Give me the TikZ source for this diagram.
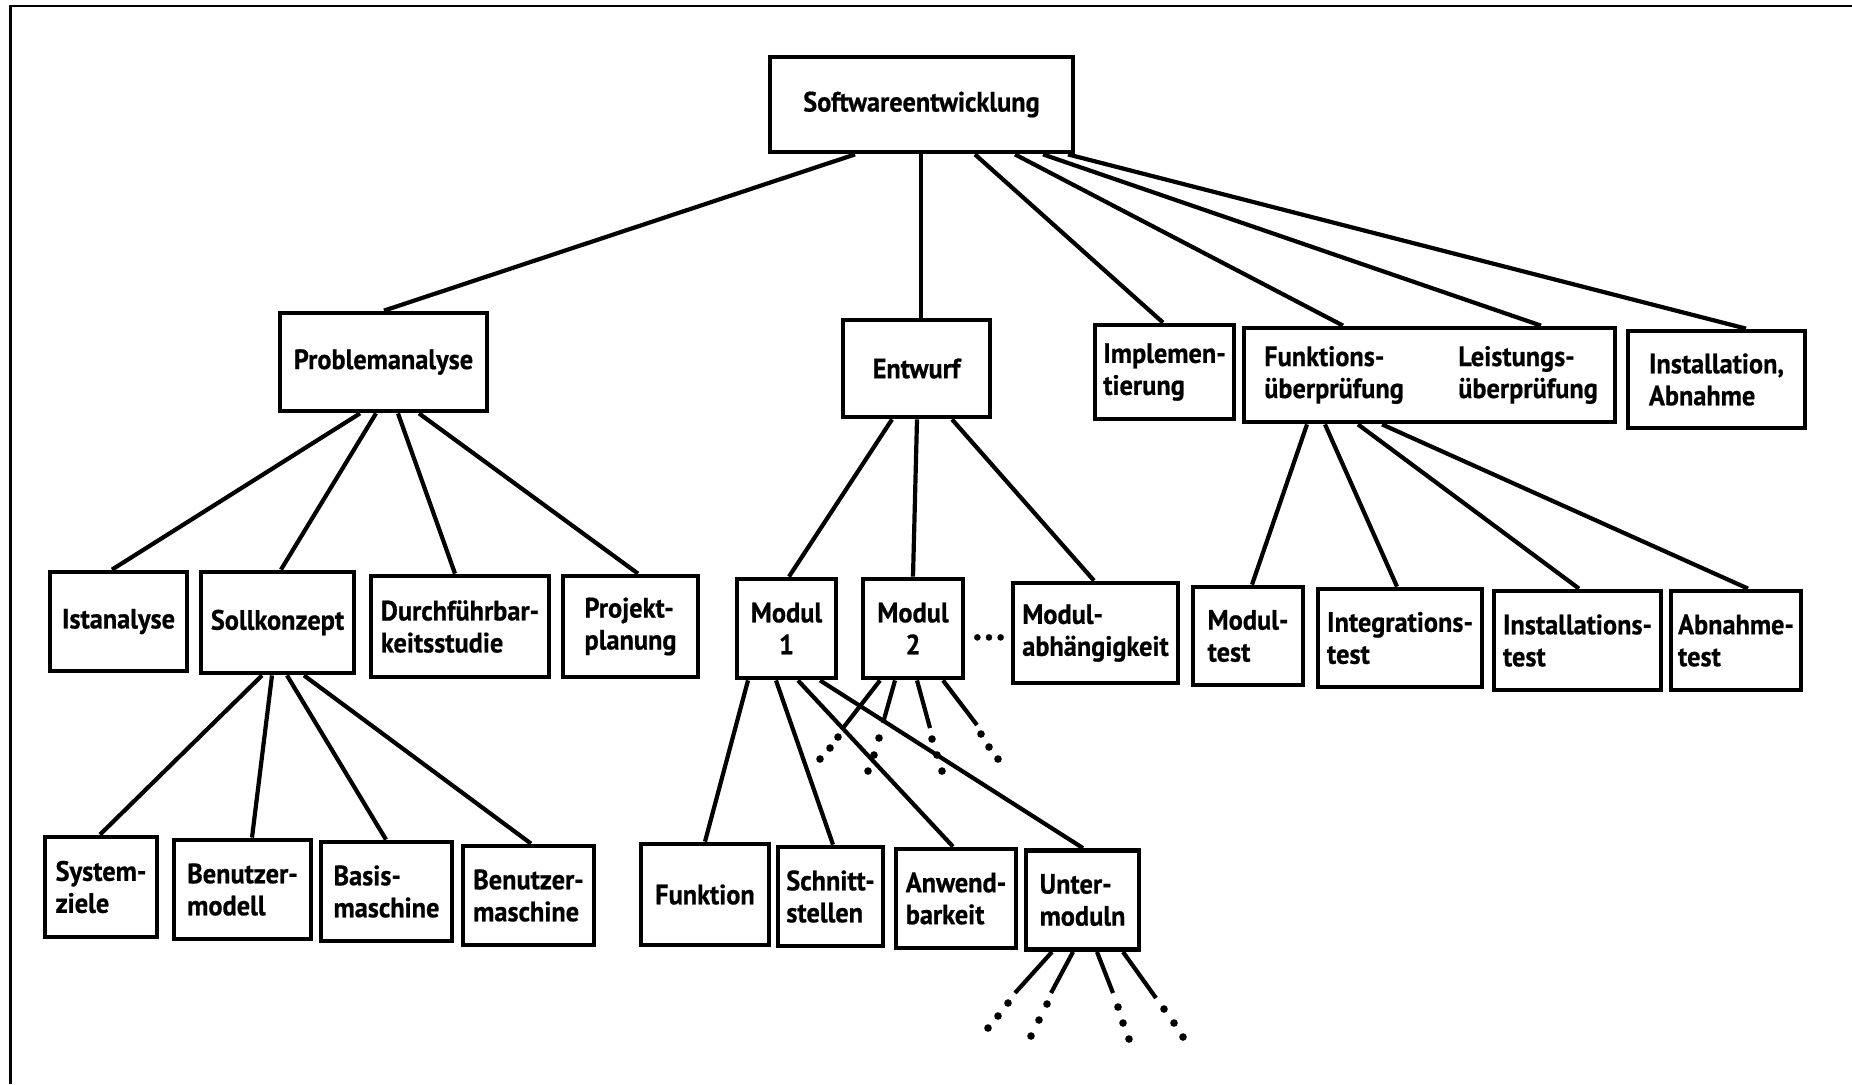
\documentclass[tikz,border=0pt]{standalone}
\usepackage{fontspec}
\setmainfont{PT Sans}[FakeStretch=0.94,BoldFeatures={FakeBold=0.6}]
\usetikzlibrary{calc}
\begin{document}
\begin{tikzpicture}[x=0.5pt,y=-0.5pt,
  txt/.style={inner sep=1pt,align=left,font=\bfseries\fontsize{14}{16}\selectfont},
  box/.style={txt,draw,line width=2.4pt},
  wh/.style 2 args={minimum width=#1*0.5pt,minimum height=#2*0.5pt},
  conn/.style={line width=2.1pt},
  frame/.style={line width=1.3pt}]
\useasboundingbox (0,0) rectangle (1852,1084);

% page frame (top and left edges)
\draw[frame] (10.5,1084) -- (10.5,6) -- (1852,6);

% root
\node[box,wh={303}{95}] (sw) at (921.5,104.5) {Softwareentwicklung};

% phases
\node[box,wh={207}{98}] (pa) at (383.5,362) {Problemanalyse};
\node[box,wh={147}{97}] (ew) at (916.5,368.5) {Entwurf};
\node[box,wh={139}{94}] (im) at (1164.5,372) {Implemen-\\tierung};
\node[box,wh={371}{94}] (fl) at (1429.5,375) {};
\node[txt] (fu) at (1334,375) {Funktions-\\überprüfung};
\node[txt] (le) at (1528,375) {Leistungs-\\überprüfung};
\node[box,wh={177}{97}] (ia) at (1716.5,379.5) {Installation,\\Abnahme};

% third level
\node[box,wh={137}{99}] (ist) at (118.5,621.5) {Istanalyse};
\node[box,wh={153}{101}] (sk) at (277.5,622.5) {Sollkonzept};
\node[box,wh={178}{101}] (df) at (460,626.5) {Durchführbar-\\keitsstudie};
\node[box,wh={135}{101}] (pp) at (630.5,626.5) {Projekt-\\planung};
\node[box,wh={99}{99},align=center] (m1) at (786.5,628.5) {Modul\\1};
\node[box,wh={100}{99},align=center] (m2) at (913,628.5) {Modul\\2};
\node[txt,anchor=base,font=\bfseries\fontsize{20}{20}\selectfont] (ell) at (989,640) {.\hspace{1.2pt}.\hspace{1.2pt}.};
\node[box,wh={165}{100}] (ma) at (1095.5,633) {Modul-\\abhängigkeit};
\node[box,wh={110}{98}] (mt) at (1248,636) {Modul-\\test};
\node[box,wh={164}{98}] (itt) at (1400,638) {Integrations-\\test};
\node[box,wh={167}{99}] (ins) at (1577.5,640.5) {Installations-\\test};
\node[box,wh={130}{99}] (abt) at (1736,640.5) {Abnahme-\\test};

% fourth level
\node[box,wh={112}{100}] (sz) at (101,887) {System-\\ziele};
\node[box,wh={137}{99}] (bm) at (242.5,889.5) {Benutzer-\\modell};
\node[box,wh={131}{99}] (bs) at (386.5,891.5) {Basis-\\maschine};
\node[box,wh={131}{99}] (bu) at (528.5,895.5) {Benutzer-\\maschine};
\node[box,wh={128}{101}] (fk) at (705,894.5) {Funktion};
\node[box,wh={105}{99}] (ss) at (830.5,896.5) {Schnitt-\\stellen};
\node[box,wh={120}{99}] (ab) at (956,898.5) {Anwend-\\barkeit};
\node[box,wh={113}{99}] (um) at (1082.5,900) {Unter-\\moduln};

% root to phases
\draw[conn] (855,0 |- sw.south) -- (384,0 |- pa.north);
\draw[conn] (921,0 |- sw.south) -- (921,0 |- ew.north);
\draw[conn] (975,0 |- sw.south) -- (1163,0 |- im.north);
\draw[conn] (1015,0 |- sw.south) -- (1343,0 |- fl.north);
\draw[conn] (1043,0 |- sw.south) -- (1541,0 |- fl.north);
\draw[conn] (1068,0 |- sw.south) -- (1746,0 |- ia.north);

% Problemanalyse
\draw[conn] (360,0 |- pa.south) -- (112,0 |- ist.north);
\draw[conn] (376,0 |- pa.south) -- (281,0 |- sk.north);
\draw[conn] (398,0 |- pa.south) -- (455,0 |- df.north);
\draw[conn] (419,0 |- pa.south) -- (638,0 |- pp.north);

% Sollkonzept
\draw[conn] (262,0 |- sk.south) -- (100,0 |- sz.north);
\draw[conn] (272,0 |- sk.south) -- (252,0 |- bm.north);
\draw[conn] (287,0 |- sk.south) -- (386,0 |- bs.north);
\draw[conn] (304,0 |- sk.south) -- (531,0 |- bu.north);

% Entwurf
\draw[conn] (892,0 |- ew.south) -- (789,0 |- m1.north);
\draw[conn] (917,0 |- ew.south) -- (913,0 |- m2.north);
\draw[conn] (952,0 |- ew.south) -- (1094,0 |- ma.north);

% Modul 1
\draw[conn] (748,0 |- m1.south) -- (705,0 |- fk.north);
\draw[conn] (776,0 |- m1.south) -- (833,0 |- ss.north);
\draw[conn] (798,0 |- m1.south) -- (953,0 |- ab.north);
\draw[conn] (820,0 |- m1.south) -- (1083,0 |- um.north);

% Funktions-/Leistungsueberpruefung
\draw[conn] (1307,0 |- fl.south) -- (1252,0 |- mt.north);
\draw[conn] (1325,0 |- fl.south) -- (1397,0 |- itt.north);
\draw[conn] (1358,0 |- fl.south) -- (1579,0 |- ins.north);
\draw[conn] (1382,0 |- fl.south) -- (1748,0 |- abt.north);

% Modul 2: open branches ending in dots
\coordinate (a1) at (843,728);
\coordinate (a2) at (883,723);
\coordinate (a3) at (930,728);
\coordinate (a4) at (977,725);
\draw[conn] (880,0 |- m2.south) -- (a1);
\draw[conn] (895,0 |- m2.south) -- (a2);
\draw[conn] (917,0 |- m2.south) -- (a3);
\draw[conn] (943,0 |- m2.south) -- (a4);
\foreach \p in {(838,737),(830,748),(820,759),
                (879,738),(874,755),(868,771),
                (932,739),(937,755),(942,771),
                (981,734),(989,747),(998,759)}
  \fill \p circle (3.8);

% Untermoduln: open branches ending in dots
\coordinate (b1) at (1015,993);
\coordinate (b2) at (1051,993);
\coordinate (b3) at (1113,993);
\coordinate (b4) at (1156,998);
\draw[conn] (1052,0 |- um.south) -- (b1);
\draw[conn] (1073,0 |- um.south) -- (b2);
\draw[conn] (1097,0 |- um.south) -- (b3);
\draw[conn] (1123,0 |- um.south) -- (b4);
\foreach \p in {(1008,1003),(998,1016),(988,1028),
                (1047,1004),(1039,1020),(1031,1036),
                (1118,1007),(1123,1023),(1129,1039),
                (1164,1009),(1174,1023),(1183,1037)}
  \fill \p circle (3.8);
\end{tikzpicture}
\end{document}
